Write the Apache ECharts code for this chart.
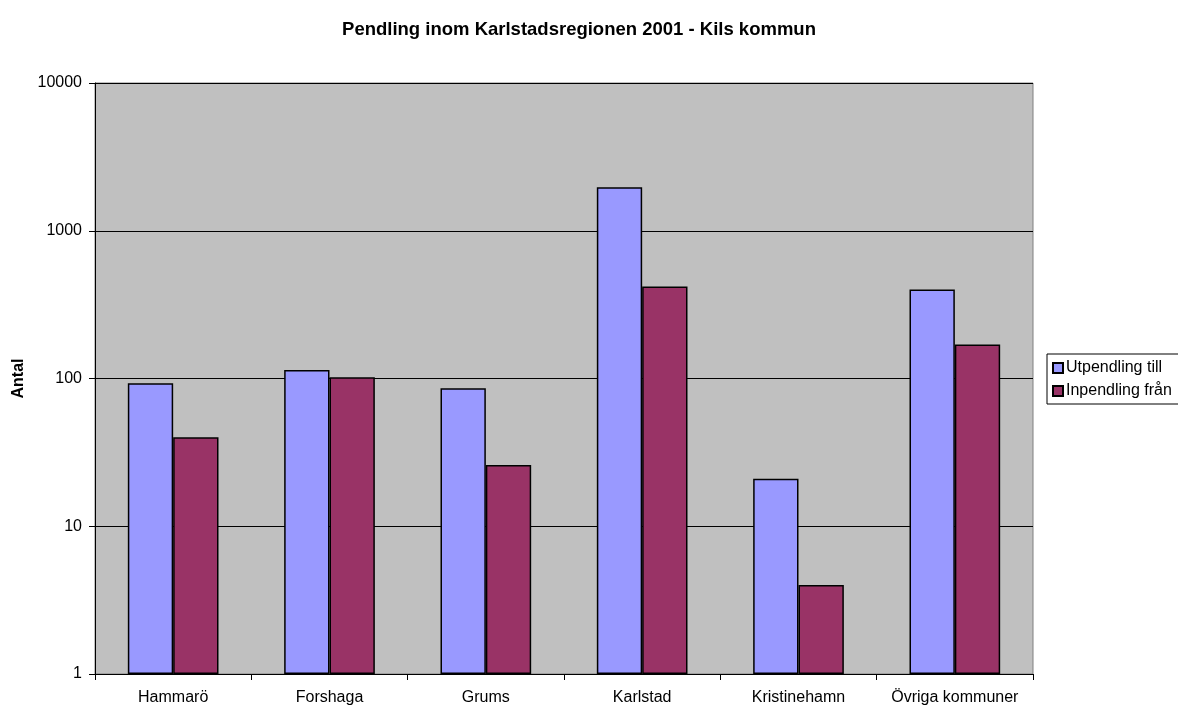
<!DOCTYPE html>
<html>
<head>
<meta charset="utf-8">
<script src="https://cdn.jsdelivr.net/npm/echarts@6/dist/echarts.min.js"></script>
<style>
  html, body { margin: 0; padding: 0; background: #fff; }
  #chart { width: 1178px; height: 706px; }
</style>
</head>
<body>
<div id="chart"></div>
<script>
const categories = ['Hammarö', 'Forshaga', 'Grums', 'Karlstad', 'Kristinehamn', 'Övriga kommuner'];
const utpendling = [93, 114, 86, 1970, 21, 400];
const inpendling = [40, 102, 26, 420, 4, 170];

const chart = echarts.init(document.getElementById('chart'));

const font = 'Liberation Sans, Arial, sans-serif';

const option = {
  animation: false,
  backgroundColor: '#ffffff',
  title: {
    text: 'Pendling inom Karlstadsregionen 2001 - Kils kommun',
    left: 574,
    textAlign: 'center',
    top: 15,
    textStyle: { fontFamily: font, fontSize: 18.5, fontWeight: 'bold', color: '#000' }
  },
  legend: {
    orient: 'vertical',
    left: 1047,
    top: 354,
    padding: [6, 8, 5, 5],
    itemGap: 7,
    itemWidth: 10,
    itemHeight: 10,
    icon: 'rect',
    backgroundColor: '#fff',
    borderColor: '#000',
    borderWidth: 1,
    textStyle: { fontFamily: font, fontSize: 16, color: '#000', padding: [0, 0, 0, -2] },
    data: ['Utpendling till', 'Inpendling från']
  },
  grid: {
    left: 95,
    top: 83,
    width: 938,
    height: 592,
    show: true,
    backgroundColor: '#c0c0c0',
    borderColor: '#808080',
    borderWidth: 1
  },
  xAxis: {
    type: 'category',
    data: categories,
    axisLine: { lineStyle: { color: '#000', width: 1 } },
    axisTick: { show: true, interval: 0, alignWithLabel: false, length: 6, lineStyle: { color: '#000' } },
    axisLabel: { interval: 0, fontFamily: font, fontSize: 16, color: '#000', margin: 16 }
  },
  yAxis: {
    type: 'log',
    logBase: 10,
    min: 1,
    max: 10000,
    name: 'Antal',
    nameLocation: 'middle',
    nameGap: 68,
    nameTextStyle: { fontFamily: font, fontSize: 16, fontWeight: 'bold', color: '#000' },
    axisLine: { show: true, lineStyle: { color: '#000', width: 1 } },
    axisTick: { show: true, length: 6, lineStyle: { color: '#000' } },
    axisLabel: {
      fontFamily: font, fontSize: 16, color: '#000', margin: 13,
      formatter: (v) => String(Math.round(v))
    },
    splitLine: { show: true, lineStyle: { color: '#000', width: 1 } }
  },
  series: [
    {
      name: 'Utpendling till',
      type: 'bar',
      data: utpendling,
      barGap: '0%',
      barCategoryGap: '42%',
      itemStyle: { color: '#9999ff', borderColor: '#000', borderWidth: 1.5 }
    },
    {
      name: 'Inpendling från',
      type: 'bar',
      data: inpendling,
      itemStyle: { color: '#993366', borderColor: '#000', borderWidth: 1.5 }
    }
  ]
};

chart.setOption(option);
</script>
</body>
</html>
